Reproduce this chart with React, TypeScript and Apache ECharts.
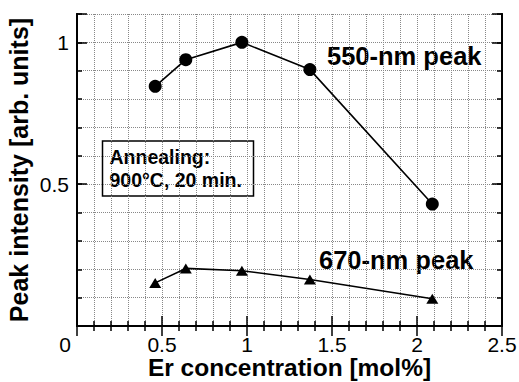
import React, { useEffect, useRef } from "react";
import * as echarts from "echarts";

const erConcentration = [0.46, 0.64, 0.97, 1.37, 2.09];
const peak550 = [0.845, 0.939, 1.0, 0.904, 0.43];
const peak670 = [0.152, 0.203, 0.195, 0.164, 0.096];
const xTickLabels = ["0", "0.5", "1", "1.5", "2", "2.5"];
const yTickLabels = ["0.5", "1"];

const FONT = "'Liberation Sans', Arial, Helvetica, sans-serif";

export default function App() {
  const ref = useRef<HTMLDivElement>(null);
  useEffect(() => {
    if (!ref.current) return;
    const chart = echarts.init(ref.current, undefined, { renderer: "svg" });
    const axisLine = { show: true, lineStyle: { color: "#000", width: 2 } };
    const dotted = { show: true, lineStyle: { color: "#888", width: 1, type: "dotted" as const } };
    const fmtX = (v: number) => {
      const s = String(Math.round(v * 10) / 10);
      if (s === "0") return "{z|0}";
      return xTickLabels.includes(s) ? s : "";
    };
    const fmtY = (v: number) => {
      const s = String(Math.round(v * 10) / 10);
      return yTickLabels.includes(s) ? s : "";
    };
    const xBase = {
      type: "value" as const,
      min: 0,
      max: 2.5,
      interval: 0.5,
      axisLine,
      axisTick: { show: true, inside: true, length: 10, lineStyle: { color: "#000", width: 1.5 } },
      minorTick: { show: true, splitNumber: 5, length: 5, lineStyle: { color: "#000", width: 1.5 } },
    };
    const yMinor = {
      type: "value" as const,
      min: 0,
      max: 1.1,
      interval: 0.1,
      axisLine,
      axisLabel: { show: false },
      axisTick: { show: true, inside: true, length: 5, lineStyle: { color: "#000", width: 1.5 } },
    };
    const yMajor = {
      type: "value" as const,
      min: 0,
      max: 1.1,
      interval: 0.5,
      axisLine,
      splitLine: { show: false },
      axisTick: { show: true, inside: true, length: 10, lineStyle: { color: "#000", width: 1.5 } },
    };
    chart.setOption({
      animation: false,
      backgroundColor: "#fff",
      grid: { left: 77, right: 17, top: 14, bottom: 56, containLabel: false, outerBoundsMode: "none" },
      xAxis: [
        {
          ...xBase,
          position: "bottom",
          name: "Er concentration [mol%]",
          nameLocation: "middle",
          nameGap: 29,
          nameMoveOverlap: false,
          nameTextStyle: { color: "#000", fontFamily: FONT, fontWeight: "bold", fontSize: 24.5, lineHeight: 24 },
          axisLabel: {
            show: true,
            color: "#000",
            fontFamily: FONT,
            fontSize: 21,
            lineHeight: 20,
            margin: 8,
            formatter: fmtX,
            rich: { z: { color: "#000", fontFamily: FONT, fontSize: 21, lineHeight: 20, padding: [0, 24, 0, 0] } },
          },
          splitLine: dotted,
          minorSplitLine: dotted,
        },
        {
          ...xBase,
          position: "top",
          axisLabel: { show: false },
          splitLine: { show: false },
          minorSplitLine: { show: false },
        },
      ],
      yAxis: [
        { ...yMinor, position: "left", splitLine: dotted },
        {
          ...yMajor,
          position: "left",
          name: "Peak intensity [arb. units]",
          nameLocation: "middle",
          nameGap: 46,
          nameMoveOverlap: false,
          nameTextStyle: { color: "#000", fontFamily: FONT, fontWeight: "bold", fontSize: 25 },
          axisLabel: { show: true, color: "#000", fontFamily: FONT, fontSize: 21, margin: 8, formatter: fmtY },
        },
        { ...yMinor, position: "right", splitLine: { show: false } },
        { ...yMajor, position: "right", axisLabel: { show: false } },
      ],
      series: [
        {
          type: "line",
          name: "550-nm peak",
          xAxisIndex: 0,
          yAxisIndex: 1,
          data: erConcentration.map((x, i) => [x, peak550[i]]),
          symbol: "circle",
          symbolSize: 13,
          lineStyle: { color: "#000", width: 1.6 },
          itemStyle: { color: "#000" },
        },
        {
          type: "line",
          name: "670-nm peak",
          xAxisIndex: 0,
          yAxisIndex: 1,
          data: erConcentration.map((x, i) => [x, peak670[i]]),
          symbol: "triangle",
          symbolSize: [12, 10],
          lineStyle: { color: "#000", width: 1.6 },
          itemStyle: { color: "#000" },
        },
      ],
      graphic: [
        {
          type: "text",
          x: 327,
          y: 56,
          style: { text: "550-nm peak", font: `bold 25.5px ${FONT}`, fill: "#000", verticalAlign: "middle" },
        },
        {
          type: "text",
          x: 319,
          y: 260,
          style: { text: "670-nm peak", font: `bold 25.5px ${FONT}`, fill: "#000", verticalAlign: "middle" },
        },
        {
          type: "group",
          x: 102.5,
          y: 141,
          children: [
            {
              type: "rect",
              shape: { x: 0, y: 0, width: 151, height: 55 },
              style: { fill: "#fff", stroke: "#000", lineWidth: 1.5 },
            },
            {
              type: "text",
              x: 7,
              y: 27.5,
              style: {
                text: "Annealing:\n900°C, 20 min.",
                font: `bold 19.5px ${FONT}`,
                lineHeight: 23,
                fill: "#000",
                verticalAlign: "middle",
              },
            },
          ],
        },
      ],
    });
    return () => chart.dispose();
  }, []);
  return (
    <div
      ref={ref}
      style={{ position: "absolute", left: 0, top: 0, width: 519, height: 382, background: "#fff" }}
    />
  );
}
